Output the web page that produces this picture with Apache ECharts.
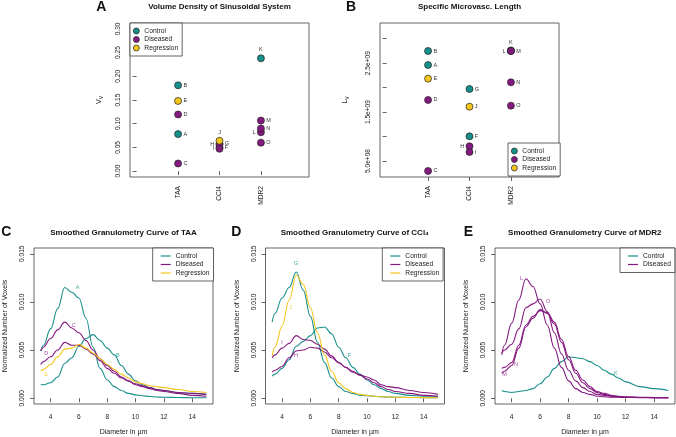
<!DOCTYPE html>
<html>
<head>
<meta charset="utf-8">
<script src="https://cdn.jsdelivr.net/npm/echarts@6/dist/echarts.min.js"></script>
<style>
  html, body { margin: 0; padding: 0; background: #fff; }
  #chart { width: 676px; height: 437px; }
</style>
</head>
<body>
<div id="chart"></div>
<script>
var FONT = '"Liberation Sans", Arial, sans-serif';
var INK = '#3c3c3c';
var condColor = { Control: '#178F8A', Diseased: '#84197F', Regression: '#F4C51C' };
var conditions = ['Control', 'Diseased', 'Regression'];

// panels A + B : one value per liver sample
var groups = ['TAA', 'CCl4', 'MDR2'];
var samples = ['A', 'B', 'C', 'D', 'E', 'F', 'G', 'H', 'I', 'J', 'K', 'L', 'M', 'N', 'O'];
var sampleGroup = [1, 1, 1, 1, 1, 2, 2, 2, 2, 2, 3, 3, 3, 3, 3];
var sampleCondition = ['Control', 'Control', 'Diseased', 'Diseased', 'Regression',
  'Control', 'Control', 'Diseased', 'Diseased', 'Regression',
  'Control', 'Diseased', 'Diseased', 'Diseased', 'Diseased'];
var volumeDensity = [0.078, 0.181, 0.016, 0.1195, 0.148, 0.050, 0.058, 0.056, 0.047, 0.064,
  0.238, 0.082, 0.1067, 0.090, 0.060];
var microvascLength = [2.462e9, 2.748e9, 2.96e8, 1.747e9, 2.183e9, 1.004e9, 1.971e9, 8.0e8, 6.84e8, 1.61e9,
  2.76e9, 2.748e9, 2.748e9, 2.108e9, 1.631e9];
var volTicks = [0, 0.05, 0.10, 0.15, 0.20, 0.25, 0.30];
var lenTicks = [5e8, 1e9, 1.5e9, 2e9, 2.5e9, 3e9];
var lenLabels = [5e8, 1.5e9, 2.5e9];
// where the sample letter sits next to its point (default right)
var sideA = { H: 'left', I: 'left', J: 'top', K: 'top', L: 'left' };
var sideB = { H: 'left', K: 'top', L: 'left' };

// panels C - E : smoothed granulometry curves
var diameter = [3.3, 3.5, 4, 4.5, 5, 5.5, 6, 6.5, 7, 7.5, 8, 8.5, 9, 9.5, 10, 10.5, 11, 11.5, 12, 13, 14, 15];
var diamTicks = [4, 6, 8, 10, 12, 14];
var voxTicks = [0, 0.005, 0.010, 0.015];

var taaA = [0.0049, 0.0055, 0.0072, 0.0093, 0.0115, 0.0110, 0.0104, 0.0083, 0.0053, 0.0031, 0.0019, 0.0012, 0.0008, 0.0005, 0.00035, 0.00025, 0.00018, 0.00013, 0.0001, 0.00007, 0.00005, 0.00005];
var taaB = [0.0014, 0.0014, 0.0016, 0.0022, 0.0036, 0.0042, 0.0054, 0.0062, 0.0066, 0.0060, 0.0052, 0.0045, 0.0034, 0.0025, 0.0018, 0.0014, 0.0011, 0.0009, 0.0008, 0.0006, 0.0005, 0.0004];
var taaC = [0.0049, 0.0053, 0.0062, 0.0071, 0.0079, 0.0073, 0.0068, 0.0060, 0.0050, 0.0041, 0.0034, 0.0028, 0.0022, 0.0018, 0.0015, 0.0013, 0.0011, 0.0009, 0.0008, 0.0006, 0.0005, 0.0004];
var taaD = [0.0035, 0.0038, 0.0043, 0.0050, 0.0058, 0.0055, 0.0055, 0.0051, 0.0046, 0.0039, 0.0031, 0.0026, 0.0021, 0.0018, 0.0014, 0.0012, 0.0010, 0.0008, 0.0007, 0.0005, 0.0003, 0.0002];
var taaE = [0.0028, 0.0030, 0.0035, 0.0043, 0.0051, 0.0052, 0.0056, 0.0052, 0.0047, 0.0041, 0.0035, 0.0030, 0.0025, 0.0021, 0.0017, 0.0015, 0.0013, 0.0012, 0.0011, 0.0009, 0.0007, 0.0006];

var cclF = [0.0023, 0.0025, 0.0031, 0.0040, 0.0054, 0.0059, 0.0065, 0.0073, 0.0074, 0.0067, 0.0053, 0.0042, 0.0032, 0.0025, 0.0019, 0.0014, 0.0010, 0.0007, 0.0005, 0.0003, 0.0002, 0.0002];
var cclG = [0.0079, 0.0088, 0.0104, 0.0115, 0.0131, 0.0112, 0.0085, 0.0058, 0.0037, 0.0021, 0.0012, 0.0007, 0.0005, 0.0003, 0.00025, 0.0002, 0.00015, 0.00012, 0.0001, 0.00008, 0.00006, 0.00005];
var cclH = [0.0027, 0.0029, 0.0033, 0.0042, 0.0049, 0.0050, 0.0053, 0.0052, 0.0048, 0.0042, 0.0037, 0.0032, 0.0028, 0.0024, 0.0020, 0.0016, 0.0012, 0.0009, 0.0007, 0.0005, 0.0003, 0.0002];
var cclI = [0.0042, 0.0045, 0.0052, 0.0057, 0.0065, 0.0061, 0.0060, 0.0056, 0.0051, 0.0044, 0.0037, 0.0032, 0.0027, 0.0024, 0.0022, 0.0019, 0.0014, 0.0012, 0.0011, 0.0008, 0.0006, 0.0004];
var cclJ = [0.0044, 0.0053, 0.0075, 0.0102, 0.0128, 0.0118, 0.0094, 0.0068, 0.0045, 0.0028, 0.0016, 0.0010, 0.0006, 0.0004, 0.0003, 0.0002, 0.00015, 0.00012, 0.0001, 0.00008, 0.00006, 0.00005];

var mdrK = [0.0008, 0.0007, 0.0006, 0.0007, 0.0008, 0.0010, 0.0015, 0.0022, 0.0031, 0.0038, 0.0043, 0.0042, 0.0041, 0.0038, 0.0034, 0.0029, 0.0025, 0.0021, 0.0017, 0.0012, 0.0010, 0.0008];
var mdrL = [0.0045, 0.0055, 0.0078, 0.0102, 0.0124, 0.0116, 0.0098, 0.0076, 0.0052, 0.0032, 0.0018, 0.0010, 0.0006, 0.0004, 0.0002, 0.00015, 0.0001, 0.0001, 0.00008, 0.00006, 0.00005, 0.00005];
var mdrM = [0.0026, 0.0028, 0.0034, 0.0052, 0.0074, 0.0083, 0.0092, 0.0088, 0.0077, 0.0058, 0.0040, 0.0026, 0.0016, 0.0010, 0.0006, 0.0004, 0.0002, 0.00015, 0.0001, 0.00008, 0.00006, 0.00005];
var mdrN = [0.0031, 0.0032, 0.0037, 0.0055, 0.0076, 0.0085, 0.0091, 0.0089, 0.0079, 0.0061, 0.0043, 0.0029, 0.0019, 0.0012, 0.0007, 0.0005, 0.0003, 0.0002, 0.00015, 0.0001, 0.00008, 0.00006];
var mdrO = [0.0047, 0.0050, 0.0056, 0.0072, 0.0094, 0.0098, 0.0103, 0.0090, 0.0068, 0.0046, 0.0029, 0.0018, 0.0011, 0.0007, 0.0004, 0.0003, 0.0002, 0.00015, 0.0001, 0.00008, 0.00006, 0.00005];

// letters written next to the curves
var taaTags = [['A', 5.91, 0.01145, 'Control'], ['B', 8.75, 0.00448, 'Control'], ['C', 5.63, 0.0076, 'Diseased'], ['D', 3.69, 0.0046, 'Diseased'], ['E', 3.69, 0.00245, 'Regression']];
var cclTags = [['F', 8.76, 0.00448, 'Control'], ['G', 4.99, 0.01397, 'Control'], ['H', 4.99, 0.0044, 'Diseased'], ['I', 4.0, 0.0058, 'Diseased'], ['J', 4.59, 0.0094, 'Regression']];
var mdrTags = [['K', 11.32, 0.00255, 'Control'], ['L', 4.69, 0.0124, 'Diseased'], ['M', 3.5, 0.0025, 'Diseased'], ['N', 4.3, 0.00355, 'Diseased'], ['O', 6.56, 0.0100, 'Diseased']];

var panels = [
  { id: 'C', tags: taaTags, curves: [['Control', taaA], ['Control', taaB], ['Diseased', taaC], ['Diseased', taaD], ['Regression', taaE]] },
  { id: 'D', tags: cclTags, curves: [['Control', cclF], ['Control', cclG], ['Diseased', cclH], ['Diseased', cclI], ['Regression', cclJ]] },
  { id: 'E', tags: mdrTags, curves: [['Control', mdrK], ['Diseased', mdrL], ['Diseased', mdrM], ['Diseased', mdrN], ['Diseased', mdrO]] }
];

var grids = [
  { left: 130, top: 23, width: 179, height: 154 },
  { left: 380, top: 23, width: 179, height: 154 },
  { left: 34, top: 248, width: 179, height: 158 },
  { left: 265.5, top: 248, width: 179, height: 158 },
  { left: 495, top: 248, width: 180, height: 158 }
];
grids.forEach(function (g) {
  g.show = true;
  g.borderColor = INK;
  g.borderWidth = 0.8;
  g.backgroundColor = 'transparent';
});

var tickStyle = { show: true, length: 4, lineStyle: { color: INK, width: 0.8 } };
var labelFont = { fontFamily: FONT, fontSize: 6.6, color: '#222' };

function axis(gi, min, max, ticks, labels, fmt, extra) {
  var a = {
    type: 'value', gridIndex: gi, min: min, max: max,
    axisLine: { show: false },
    splitLine: { show: false },
    axisTick: Object.assign({ customValues: ticks }, tickStyle),
    axisLabel: Object.assign({ customValues: labels, formatter: fmt, margin: 8 }, labelFont)
  };
  return Object.assign(a, extra || {});
}

function sci(v) {
  return v.toExponential(1).replace(/e\+(\d)$/, 'e+0$1');
}

var subRich = {
  m: { fontFamily: FONT, fontSize: 7, color: '#222' },
  s: { fontFamily: FONT, fontSize: 5, color: '#222', padding: [4, 0, 0, 0] }
};

var xAxes = [], yAxes = [];
[0, 1].forEach(function (gi) {
  xAxes.push(axis(gi, -0.16, 4.16, [1, 2, 3], [1, 2, 3], function (v) { return groups[v - 1]; }, {}));
  xAxes[gi].axisLabel.rotate = 90;
  xAxes[gi].axisLabel.margin = 9;
});
yAxes.push(axis(0, -0.0125, 0.3125, volTicks, volTicks, function (v) { return v.toFixed(2); }, {
  name: '{m|V}{s|V}', nameLocation: 'middle', nameRotate: 90, nameGap: 26, nameTextStyle: { rich: subRich }
}));
yAxes.push(axis(1, 1.73e8, 3.32e9, lenTicks, lenLabels, sci, {
  name: '{m|L}{s|V}', nameLocation: 'middle', nameRotate: 90, nameGap: 30, nameTextStyle: { rich: subRich }
}));
yAxes[0].axisLabel.rotate = 90;
yAxes[1].axisLabel.rotate = 90;

[2, 3, 4].forEach(function (gi) {
  var x = axis(gi, 2.83, 15.47, diamTicks, diamTicks, function (v) { return String(v); }, {
    name: 'Diameter in \u00b5m', nameLocation: 'middle', nameGap: 25,
    nameTextStyle: { fontFamily: FONT, fontSize: 7, color: '#222' }
  });
  x.axisLabel.margin = 10;
  xAxes.push(x);
  var y = axis(gi, -0.0006, 0.0156, voxTicks, voxTicks, function (v) { return v.toFixed(3); }, {
    name: 'Normalized Number of Voxels', nameLocation: 'middle', nameRotate: 90, nameGap: 25,
    nameTextStyle: { fontFamily: FONT, fontSize: 7, color: '#222' }
  });
  y.axisLabel.rotate = 90;
  yAxes.push(y);
});

function pointSeries(gi, values, side) {
  return conditions.map(function (cond) {
    var data = [];
    samples.forEach(function (s, i) {
      if (sampleCondition[i] !== cond) return;
      data.push({ name: s, value: [sampleGroup[i], values[i]], label: { position: side[s] || 'right' } });
    });
    return {
      type: 'scatter', name: cond, xAxisIndex: gi, yAxisIndex: gi, data: data,
      symbolSize: 7, z: 3,
      itemStyle: { color: condColor[cond], borderColor: '#222', borderWidth: 0.7, opacity: 1 },
      label: { show: true, formatter: '{b}', fontFamily: FONT, fontSize: 5.5, color: '#333', distance: 1.5 }
    };
  });
}

var series = [].concat(pointSeries(0, volumeDensity, sideA), pointSeries(1, microvascLength, sideB));

panels.forEach(function (p, k) {
  var gi = k + 2;
  p.curves.forEach(function (c) {
    series.push({
      type: 'line', name: c[0], xAxisIndex: gi, yAxisIndex: gi,
      data: diameter.map(function (d, i) { return [d, c[1][i]]; }),
      smooth: 0.4, smoothMonotone: 'x', showSymbol: false, symbol: 'none',
      lineStyle: { color: condColor[c[0]], width: 1.1 },
      itemStyle: { color: condColor[c[0]] }
    });
  });
  series.push({
    type: 'scatter', xAxisIndex: gi, yAxisIndex: gi, symbolSize: 0, z: 4,
    data: p.tags.map(function (t) {
      return { name: t[0], value: [t[1], t[2]], label: { color: condColor[t[3]] } };
    }),
    label: { show: true, position: 'inside', formatter: '{b}', fontFamily: FONT, fontSize: 5.5 }
  });
});

function legend(left, top, names, lineIcon) {
  return {
    left: left, top: top, orient: 'vertical', selectedMode: false,
    data: names.map(function (n) {
      return lineIcon
        ? { name: n, icon: 'rect', itemStyle: { color: condColor[n], borderWidth: 0 } }
        : { name: n, icon: 'circle', itemStyle: { color: condColor[n], borderColor: '#222', borderWidth: 0.7 } };
    }),
    itemWidth: lineIcon ? 10 : 6, itemHeight: lineIcon ? 1.2 : 6, itemGap: 0.5,
    padding: lineIcon ? [4, 4, 4, 8] : [4, 4, 4, 3],
    textStyle: { fontFamily: FONT, fontSize: 6.7, color: '#222', lineHeight: 8 },
    borderColor: INK, borderWidth: 0.8, borderRadius: 0, backgroundColor: '#fff'
  };
}

function text(x, y, str, size, bold, rich) {
  var st = { text: str, fontFamily: FONT, fontSize: size, fontWeight: bold ? 'bold' : 'normal', fill: '#111', align: 'center', verticalAlign: 'middle' };
  if (rich) st.rich = rich;
  return { type: 'text', x: x, y: y, style: st, z: 10 };
}

var option = {
  animation: false,
  backgroundColor: '#fff',
  grid: grids,
  xAxis: xAxes,
  yAxis: yAxes,
  legend: [
    legend(130, 23, conditions, false),
    legend(508, 143, conditions, false),
    legend(152.7, 248, conditions, true),
    legend(382.3, 248, conditions, true),
    legend(620, 248, ['Control', 'Diseased'], true)
  ],
  series: series,
  graphic: [
    text(101.3, 7, 'A', 14, true),
    text(351, 7, 'B', 14, true),
    text(6.3, 232, 'C', 14, true),
    text(236.3, 232, 'D', 14, true),
    text(468.3, 232, 'E', 14, true),
    text(219.5, 7, 'Volume Density of Sinusoidal System', 8, true),
    text(469.5, 7, 'Specific Microvasc. Length', 8, true),
    text(123.5, 233, 'Smoothed Granulometry Curve of TAA', 8, true),
    text(354.8, 233, 'Smoothed Granulometry Curve of CCl\u2084', 8, true),
    text(584.8, 233, 'Smoothed Granulometry Curve of MDR2', 8, true)
  ]
};

var chart = echarts.init(document.getElementById('chart'), null, { renderer: 'canvas' });
chart.setOption(option);
</script>
</body>
</html>
